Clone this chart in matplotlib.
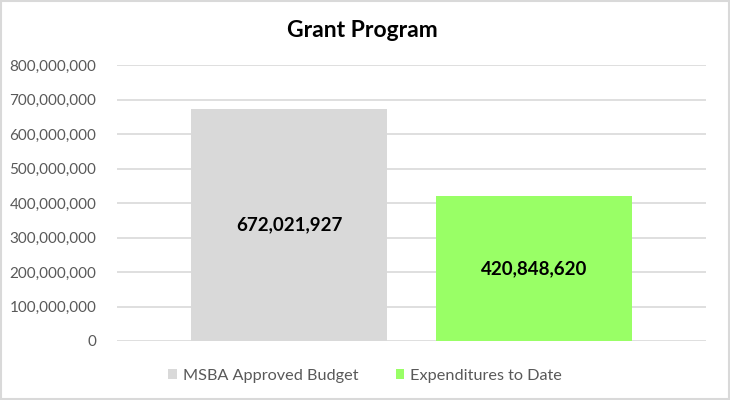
import matplotlib
matplotlib.use('Agg')
from matplotlib import pyplot as plt
from matplotlib.patches import Rectangle
from matplotlib.ticker import FuncFormatter

# chart data
series = ['MSBA Approved Budget', 'Expenditures to Date']
values = [672021927, 420848620]
colors = ['#d9d9d9', '#99ff66']
yticks = [0, 100e6, 200e6, 300e6, 400e6, 500e6, 600e6, 700e6, 800e6]

plt.rcParams['font.family'] = ['Lato', 'DejaVu Sans']

fig = plt.figure(figsize=(7.3, 4.0), dpi=100)
ax = fig.add_axes([0.1603, 0.1475, 0.8067, 0.69])

handles = []
for i, (name, v, c) in enumerate(zip(series, values, colors)):
    b = ax.bar(i, v, width=0.8, color=c, label=name, zorder=2)
    handles.append(b)
    ax.text(i, v / 2, f'{v:,}', ha='center', va='center',
            fontsize=13.5, fontweight='bold', color='black', zorder=3)

ax.set_xlim(-0.702, 1.702)
ax.set_ylim(0, 800e6)
ax.set_yticks(yticks)
ax.yaxis.set_major_formatter(FuncFormatter(lambda v, p: f'{int(v):,}'))
ax.tick_params(axis='y', length=0, labelsize=11, labelcolor='#595959', pad=15)
ax.set_xticks([])
ax.grid(axis='y', color='#d9d9d9', lw=1.2, zorder=0)
for s in ax.spines.values():
    s.set_visible(False)

fig.text(0.496, 0.923, 'Grant Program', ha='center', va='center',
         fontsize=16.5, fontweight='bold', color='black')

fig.legend(handles=handles, loc='center', bbox_to_anchor=(0.5, 0.06), ncol=2,
           frameon=False, fontsize=11.7, labelcolor='#595959',
           handlelength=0.55, handleheight=0.55, columnspacing=2.3, handletextpad=0.35)

# outer chart border
fig.patches.append(Rectangle((0.002, 0.003), 0.996, 0.994, transform=fig.transFigure,
                             fill=False, edgecolor='#d9d9d9', lw=1.5))

fig.savefig('out.png', dpi=100)
